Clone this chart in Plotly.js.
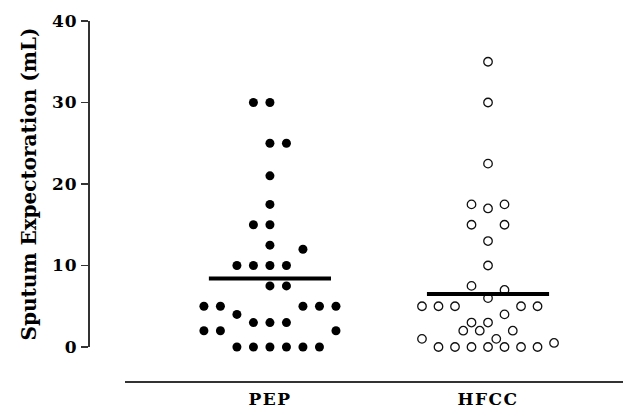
<!DOCTYPE html>
<html>
<head>
<meta charset="utf-8">
<script src="https://cdn.plot.ly/plotly-3.0.1.min.js"></script>
<style>
html,body{margin:0;padding:0;background:#fff;}
#chart{width:623px;height:410px;}
#chart g.ytick text{letter-spacing:1px;}
#chart g.xtick text{letter-spacing:1.5px;}
</style>
</head>
<body>
<div id="chart"></div>
<script>
// Categories
var groups = ['PEP', 'HFCC'];
// Sputum expectoration values (mL)
var pepValues = [30, 30, 25, 25, 21, 17.5, 15, 15, 12.5, 12, 10, 10, 10, 10, 7.5, 7.5,
                 5, 5, 5, 5, 5, 4, 3, 3, 3, 2, 2, 2, 0, 0, 0, 0, 0, 0];
var hfccValues = [35, 30, 22.5, 17.5, 17, 17.5, 15, 15, 13, 10, 7.5, 7, 6,
                  5, 5, 5, 5, 5, 4, 3, 3, 2, 2, 2, 1, 1, 0, 0, 0, 0, 0, 0, 0, 0.5];
// Horizontal scatter column of each dot (jitter)
var pepJitter = [-1, 0, 0, 1, 0, 0, -1, 0, 0, 2, -2, -1, 0, 1, 0, 1,
                 -4, -3, 2, 3, 4, -2, -1, 0, 1, -4, -3, 4, -2, -1, 0, 1, 2, 3];
var hfccJitter = [0, 0, 0, -1, 0, 1, -1, 1, 0, 0, -1, 1, 0,
                  -4, -3, -2, 2, 3, 1, -1, 0, -1.5, -0.5, 1.5, -4, 0.5, -3, -2, -1, 0, 1, 2, 3, 4];
// Group means (horizontal bars)
var groupMeans = [8.4, 6.5];
// Y ticks
var yTicks = [0, 10, 20, 30, 40];

var step = 0.0757;   // jitter spacing in x units
var half = 0.28;     // half width of mean bar

function xs(center, jit) { return jit.map(function (j) { return center + j * step; }); }

var traces = [
  {
    type: 'scatter', mode: 'markers', cliponaxis: false, showlegend: false,
    x: xs(0, pepJitter), y: pepValues,
    marker: { symbol: 'circle', size: 9, color: '#000', line: { width: 0 } }
  },
  {
    type: 'scatter', mode: 'markers', cliponaxis: false, showlegend: false,
    x: xs(1, hfccJitter), y: hfccValues,
    marker: { symbol: 'circle', size: 8.5, color: '#fff', line: { width: 1.3, color: '#111' } }
  }
];
groupMeans.forEach(function (m, i) {
  traces.push({
    type: 'scatter', mode: 'lines', cliponaxis: false, showlegend: false,
    x: [i - half, i + half], y: [m, m],
    line: { color: '#000', width: 4 }
  });
});

var layout = {
  width: 623, height: 410,
  margin: { l: 88, r: 0, t: 21, b: 29 },
  paper_bgcolor: '#fff', plot_bgcolor: '#fff',
  font: { family: 'DejaVu Serif, serif', color: '#000' },
  xaxis: {
    range: [-0.665, 1.619],
    domain: [0.069, 1],
    anchor: 'free', position: 0,
    tickmode: 'array', tickvals: [0, 1], ticktext: groups,
    showline: true, linecolor: '#333', linewidth: 1.5,
    ticks: '', showgrid: false, zeroline: false,
    tickfont: { family: 'DejaVu Serif, serif', size: 17, color: '#000', weight: 'bold' },
    ticklabelstandoff: 2
  },
  yaxis: {
    range: [0, 40],
    domain: [0.0944, 1],
    anchor: 'free', position: 0,
    tickmode: 'array', tickvals: yTicks,
    showline: true, linecolor: '#333', linewidth: 1.5,
    ticks: 'outside', ticklen: 7, tickwidth: 1.5, tickcolor: '#333',
    showgrid: false, zeroline: false,
    ticklabelstandoff: 0,
    tickfont: { family: 'DejaVu Serif, serif', size: 17, color: '#000', weight: 'bold' },
    title: {
      text: 'Sputum Expectoration (mL)',
      font: { family: 'DejaVu Serif, serif', size: 20, color: '#000', weight: 'bold' },
      standoff: 10
    }
  }
};

Plotly.newPlot('chart', traces, layout, { displayModeBar: false, staticPlot: true });
</script>
</body>
</html>
